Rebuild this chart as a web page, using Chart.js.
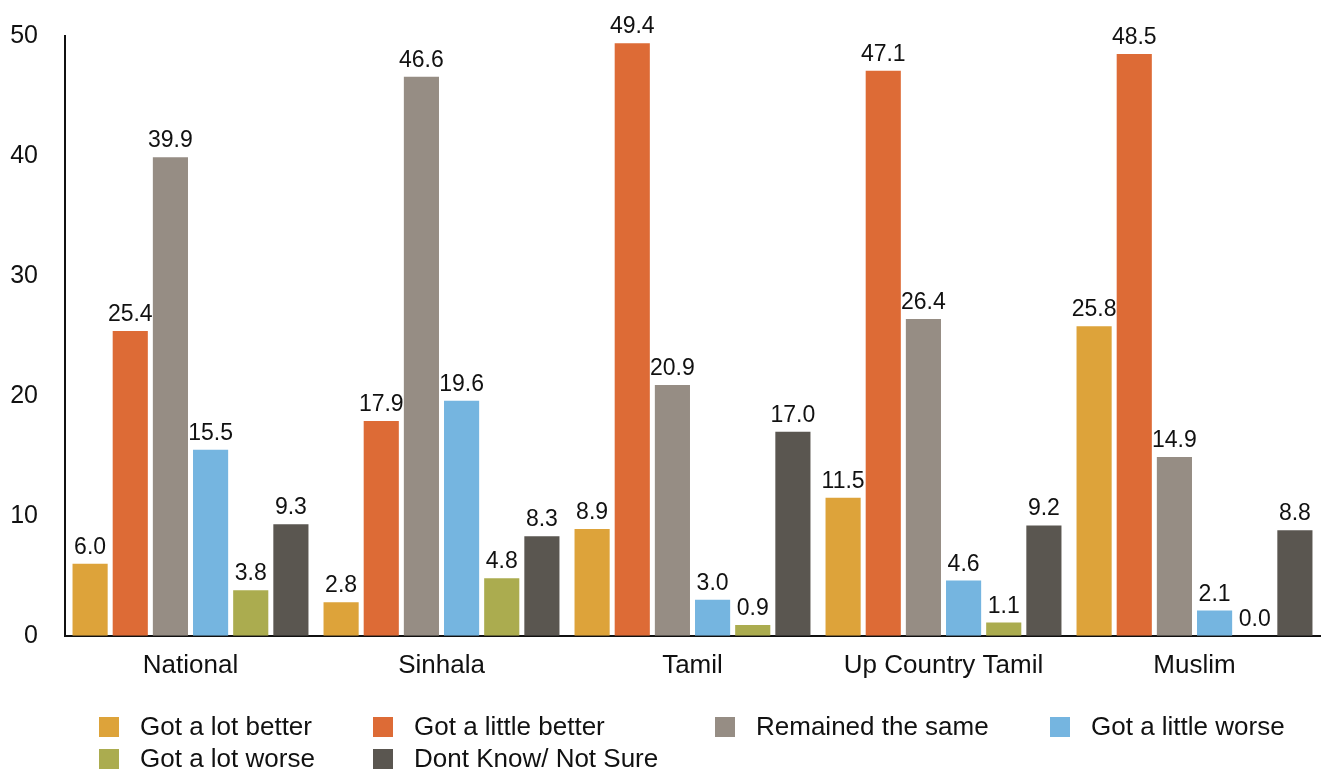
<!DOCTYPE html>
<html>
<head>
<meta charset="utf-8">
<script src="https://cdn.jsdelivr.net/npm/chart.js@4"></script>
<style>
  html, body { margin: 0; padding: 0; background: #fff; }
  #wrap { width: 1323px; height: 769px; }
</style>
</head>
<body>
<div id="wrap"><canvas id="grafica"></canvas></div>
<script>
const categorias = ['National', 'Sinhala', 'Tamil', 'Up Country Tamil', 'Muslim'];

const muchoMejor = [6.0, 2.8, 8.9, 11.5, 25.8];
const pocoMejor = [25.4, 17.9, 49.4, 47.1, 48.5];
const igual = [39.9, 46.6, 20.9, 26.4, 14.9];
const pocoPeor = [15.5, 19.6, 3.0, 4.6, 2.1];
const muchoPeor = [3.8, 4.8, 0.9, 1.1, 0.0];
const noSabe = [9.3, 8.3, 17.0, 9.2, 8.8];

const ticksY = [0, 10, 20, 30, 40, 50];

const fuente = '"Liberation Sans", Helvetica, Arial, sans-serif';

const series = [
    { label: 'Got a lot better', data: muchoMejor, color: '#DDA33A' },
    { label: 'Got a little better', data: pocoMejor, color: '#DD6B36' },
    { label: 'Remained the same', data: igual, color: '#968D84' },
    { label: 'Got a little worse', data: pocoPeor, color: '#75B5E0' },
    { label: 'Got a lot worse', data: muchoPeor, color: '#ABAC4F' },
    { label: 'Dont Know/ Not Sure', data: noSabe, color: '#5A5650' }
];

// etiquetas encima de cada barra
const etiquetasBarras = {
    id: 'etiquetasBarras',
    afterDatasetsDraw(chart) {
        const ctx = chart.ctx;
        ctx.save();
        ctx.font = '23px ' + fuente;
        ctx.fillStyle = '#111';
        ctx.textAlign = 'center';
        ctx.textBaseline = 'alphabetic';
        chart.data.datasets.forEach((ds, i) => {
            chart.getDatasetMeta(i).data.forEach((bar, j) => {
                ctx.fillText(ds.data[j].toFixed(1), bar.x, bar.y - 10);
            });
        });
        ctx.restore();
    }
};

// leyenda en columnas, como en el original
const leyendaColumnas = {
    id: 'leyendaColumnas',
    afterDraw(chart, args, opts) {
        const ctx = chart.ctx;
        ctx.save();
        ctx.font = '26px ' + fuente;
        ctx.textBaseline = 'middle';
        chart.data.datasets.forEach((ds, i) => {
            const col = i % opts.columnas.length;
            const fila = Math.floor(i / opts.columnas.length);
            const x = opts.columnas[col];
            const y = opts.filaY + fila * opts.altoFila;
            ctx.fillStyle = ds.backgroundColor;
            ctx.fillRect(x, y - 10, 20, 20);
            ctx.fillStyle = '#111';
            ctx.fillText(ds.label, x + 41, y + 1);
        });
        ctx.restore();
    }
};

const grafica = new Chart(document.getElementById('grafica'), {
    type: 'bar',
    data: {
        labels: categorias,
        datasets: series.map(s => ({
            label: s.label,
            data: s.data,
            backgroundColor: s.color,
            borderWidth: 0
        }))
    },
    options: {
        responsive: true,
        maintainAspectRatio: false,
        animation: false,
        datasets: {
            bar: { categoryPercentage: 0.96, barPercentage: 0.875 }
        },
        layout: {
            padding: { top: 36, right: 3, bottom: 74, left: 4 }
        },
        plugins: {
            legend: { display: false },
            tooltip: { enabled: false },
            leyendaColumnas: {
                columnas: [99, 373, 715, 1050],
                filaY: 727,
                altoFila: 32
            }
        },
        scales: {
            x: {
                grid: { display: false, drawTicks: false },
                border: { color: '#111', width: 2 },
                ticks: {
                    color: '#111',
                    font: { family: fuente, size: 26 },
                    padding: 14
                }
            },
            y: {
                min: 0,
                max: 50,
                afterBuildTicks: axis => {
                    axis.ticks = ticksY.map(v => ({ value: v }));
                },
                afterFit: axis => {
                    axis.width = 61;
                    axis.paddingTop = 0;
                    axis.paddingBottom = 0;
                },
                grid: { display: false, drawTicks: false },
                border: { color: '#111', width: 2 },
                ticks: {
                    color: '#111',
                    font: { family: fuente, size: 25 },
                    padding: 27
                }
            }
        }
    },
    plugins: [etiquetasBarras, leyendaColumnas]
});
</script>
</body>
</html>
